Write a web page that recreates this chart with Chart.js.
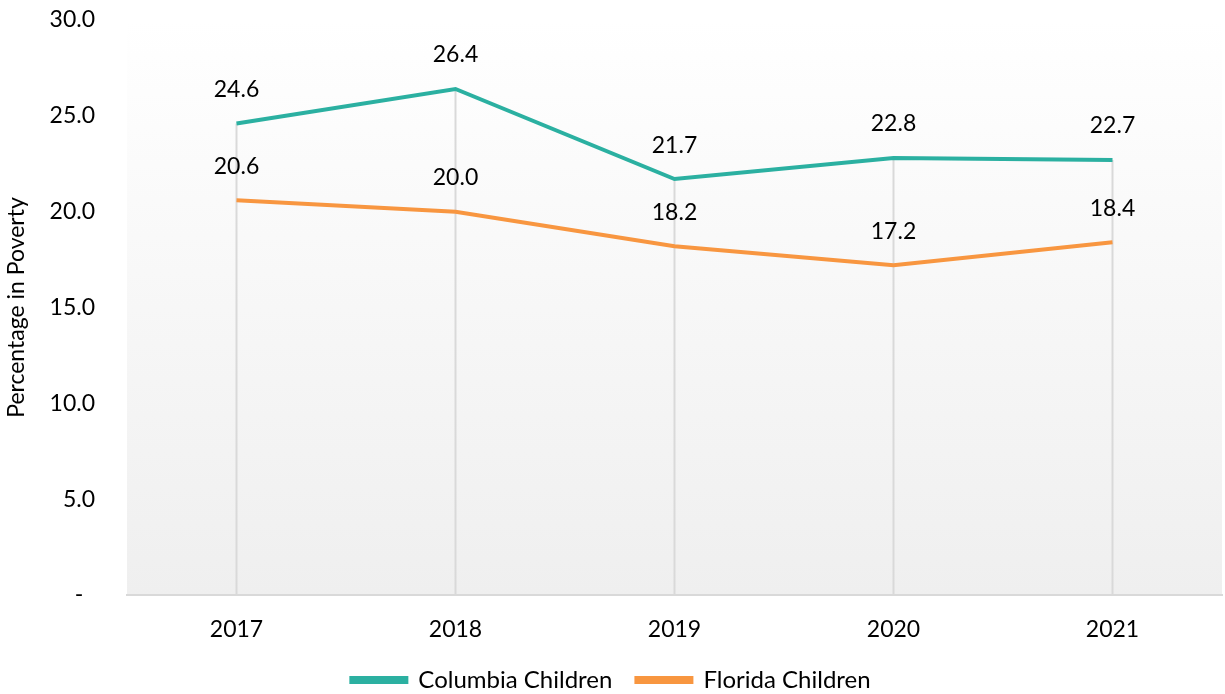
<!DOCTYPE html>
<html>
<head>
<meta charset="utf-8">
<script src="https://cdn.jsdelivr.net/npm/chart.js@4"></script>
<style>
  html, body { margin: 0; padding: 0; background: #fff; }
  #wrap { width: 1225px; height: 694px; }
</style>
</head>
<body>
<div id="wrap"><canvas id="c" width="1225" height="694"></canvas></div>
<script>
const years = ['2017', '2018', '2019', '2020', '2021'];
const columbia = [24.6, 26.4, 21.7, 22.8, 22.7];
const florida = [20.6, 20.0, 18.2, 17.2, 18.4];
const yTicks = [0, 5, 10, 15, 20, 25, 30];

const FONT = 'Lato, "Open Sans", sans-serif';
const FS = 23;

// plot area fill, light gradient down to grey
const plotBg = {
  id: 'plotBg',
  beforeDraw(chart) {
    const {ctx, chartArea: a} = chart;
    const g = ctx.createLinearGradient(0, a.top, 0, a.bottom);
    g.addColorStop(0, '#ffffff');
    g.addColorStop(1, '#efefef');
    ctx.save();
    ctx.fillStyle = g;
    ctx.fillRect(a.left, a.top, a.right - a.left, a.bottom - a.top);
    ctx.restore();
  }
};

// drop lines from the highest point down to the axis
const dropLines = {
  id: 'dropLines',
  beforeDatasetsDraw(chart) {
    const {ctx, chartArea: a} = chart;
    const x = chart.scales.x, y = chart.scales.y;
    ctx.save();
    ctx.strokeStyle = '#d9d9d9';
    ctx.lineWidth = 2;
    years.forEach((yr, i) => {
      const top = Math.max(columbia[i], florida[i]);
      const px = x.getPixelForValue(i);
      ctx.beginPath();
      ctx.moveTo(px, y.getPixelForValue(top));
      ctx.lineTo(px, a.bottom);
      ctx.stroke();
    });
    ctx.restore();
  }
};

// value labels above each point
const valueLabels = {
  id: 'valueLabels',
  afterDatasetsDraw(chart) {
    const {ctx} = chart;
    ctx.save();
    ctx.font = FS + 'px ' + FONT;
    ctx.fillStyle = '#000';
    ctx.textAlign = 'center';
    ctx.textBaseline = 'middle';
    chart.data.datasets.forEach((ds, di) => {
      chart.getDatasetMeta(di).data.forEach((pt, i) => {
        ctx.fillText(ds.data[i].toFixed(1), pt.x, pt.y - 34);
      });
    });
    ctx.restore();
  }
};

new Chart(document.getElementById('c'), {
  type: 'line',
  data: {
    labels: years,
    datasets: [
      {
        label: 'Columbia Children',
        data: columbia,
        borderColor: '#2bb0a1',
        backgroundColor: '#2bb0a1',
        borderWidth: 4,
        pointRadius: 0,
        tension: 0
      },
      {
        label: 'Florida Children',
        data: florida,
        borderColor: '#f89640',
        backgroundColor: '#f89640',
        borderWidth: 4,
        pointRadius: 0,
        tension: 0
      }
    ]
  },
  options: {
    responsive: false,
    animation: false,
    layout: { padding: { top: 20, right: 3, left: 0, bottom: -8 } },
    plugins: {
      legend: {
        position: 'bottom',
        labels: {
          font: { size: 24, family: FONT },
          color: '#000',
          boxWidth: 55,
          boxHeight: 4,
          padding: 24
        }
      },
      tooltip: { enabled: false }
    },
    scales: {
      x: {
        offset: true,
        afterFit(s) { s.height = 49; },
        grid: { display: false, drawTicks: false },
        border: { color: '#d9d9d9', width: 2 },
        ticks: { font: { size: FS, family: FONT }, color: '#000', padding: 21 }
      },
      y: {
        min: 0,
        max: 30,
        afterBuildTicks(s) { s.ticks = yTicks.map(v => ({value: v})); },
        afterFit(s) {
          s.width = 127;
          s.paddingTop = 4;
          s.paddingBottom = 4;
        },
        grid: { display: false, drawTicks: false },
        border: { display: false },
        title: {
          display: true,
          text: 'Percentage in Poverty',
          font: { size: FS, family: FONT },
          color: '#000',
          padding: { top: 3, bottom: 0 }
        },
        ticks: {
          font: { size: FS, family: FONT },
          color: '#000',
          padding: 32,
          callback: v => v === 0 ? '-  ' : v.toFixed(1)
        }
      }
    }
  },
  plugins: [plotBg, dropLines, valueLabels]
});
</script>
</body>
</html>
